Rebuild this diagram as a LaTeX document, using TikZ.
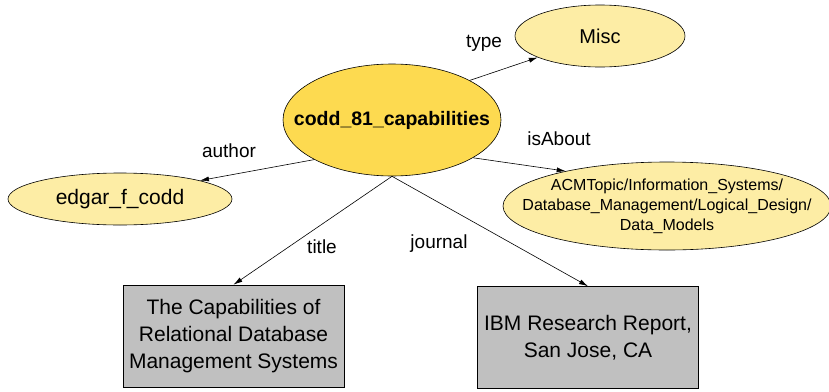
\documentclass[tikz,border=0pt]{standalone}
\usepackage{fontspec}
\setmainfont{Liberation Sans}
\usetikzlibrary{shapes.geometric,arrows.meta}
\definecolor{gold}{HTML}{FDDA50}
\definecolor{pale}{HTML}{FDEDA5}
\definecolor{boxgray}{HTML}{C0C0C0}
\tikzset{
  oval/.style={ellipse,draw=black,line width=0.6pt,fill=pale,inner sep=0pt},
  ovaltext/.style={inner sep=0pt,align=center},
  litbox/.style={rectangle,draw=black,line width=0.6pt,fill=boxgray,inner sep=0pt,align=center,
    minimum width=221pt,minimum height=102pt,font=\fontsize{21}{27}\selectfont},
  rel/.style={-{Latex[length=9pt,width=5pt]},line width=0.6pt},
  lab/.style={font=\fontsize{19}{22}\selectfont,inner sep=0pt}
}
\begin{document}
\begin{tikzpicture}[x=1pt,y=-1pt]
\useasboundingbox (0,0) rectangle (829,391);
\node[oval,fill=gold,minimum width=218pt,minimum height=112pt] (c) at (392,120) {};
\node[ovaltext,font=\bfseries\fontsize{19.5}{22}\selectfont] (ct) at (c.center) {codd\_81\_capabilities};
\node[oval,minimum width=170pt,minimum height=62pt] (m) at (600,36) {};
\node[ovaltext,font=\fontsize{20}{24}\selectfont] (mt) at (m.center) {Misc};
\node[oval,minimum width=224pt,minimum height=52pt] (e) at (120,199) {};
\node[ovaltext,font=\fontsize{21}{24}\selectfont] (et) at (e.center) {edgar\_f\_codd};
\node[oval,minimum width=328pt,minimum height=88pt] (a) at (667,206) {};
\node[ovaltext,font=\fontsize{16}{20}\selectfont] (at) at (a.center) {ACMTopic/Information\_Systems/\\Database\_Management/Logical\_Design/\\Data\_Models};
\node[litbox] (t) at (233.5,336) {The Capabilities of\\Relational Database\\Management Systems};
\node[litbox] (j) at (588,337.5) {IBM Research Report,\\San Jose, CA};
\draw[rel] (c.27) -- (m.199);
\draw[rel] (c.335) -- (a.161);
\draw[rel] (c.207) -- (e.13);
\draw[rel] (c.south) -- (t.north);
\draw[rel] (c.south) -- (j.north);
\node[lab] (lt) at (484,43) {type};
\node[lab] (li) at (559,139) {isAbout};
\node[lab] (la) at (229,151) {author};
\node[lab] (ltt) at (322,247) {title};
\node[lab] (lj) at (439,244) {journal};
\end{tikzpicture}
\end{document}
